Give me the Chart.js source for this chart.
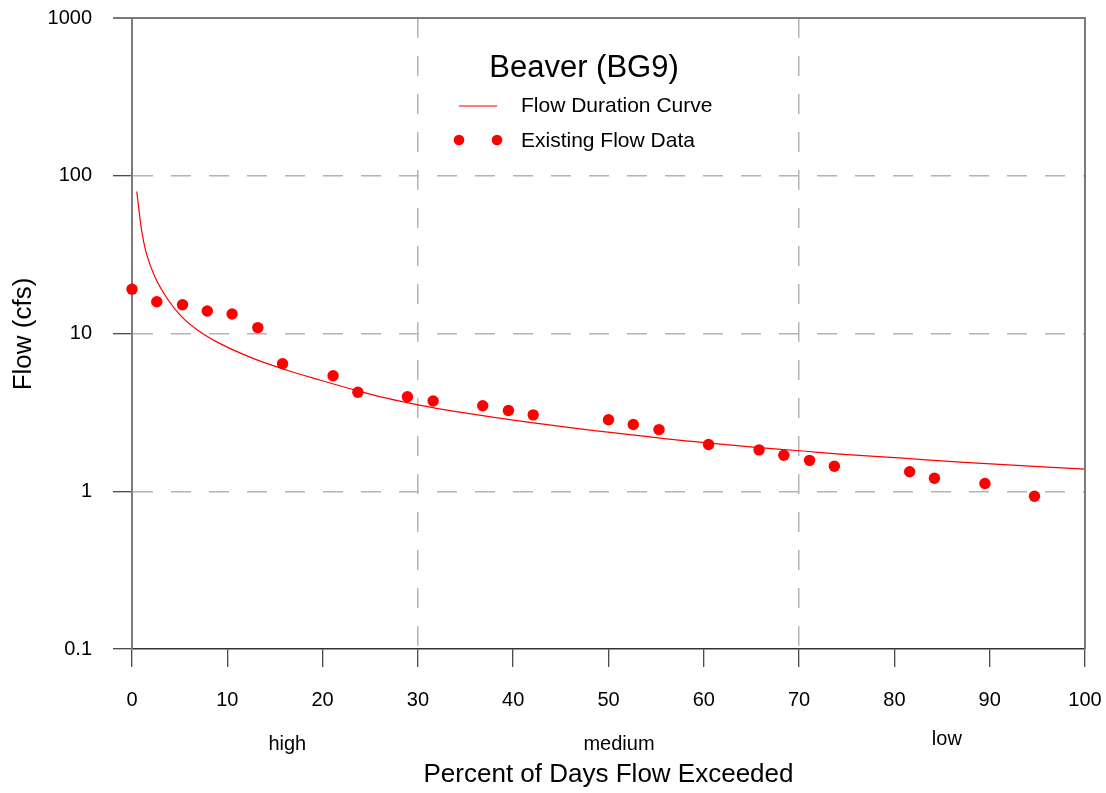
<!DOCTYPE html>
<html>
<head>
<meta charset="utf-8">
<title>Beaver (BG9)</title>
<script src="https://cdn.jsdelivr.net/npm/chart.js@4"></script>
<style>
  html, body { margin: 0; padding: 0; background: #ffffff; }
  #wrap { width: 1106px; height: 793px; }
</style>
</head>
<body>
<div id="wrap"><canvas id="fdc" width="1106" height="793"></canvas></div>
<script>
// Observed flow records: percent of days exceeded vs flow (cfs)
const flowPercent = [0, 2.6, 5.3, 7.9, 10.5, 13.2, 15.8, 21.1, 23.7, 28.9, 31.6, 36.8, 39.5,
  42.1, 50.0, 52.6, 55.3, 60.5, 65.8, 68.4, 71.1, 73.7, 81.6, 84.2, 89.5, 94.7];
const flowCfs = [19.1, 15.9, 15.2, 13.9, 13.3, 10.9, 6.43, 5.40, 4.24, 3.97, 3.73, 3.48, 3.25,
  3.05, 2.84, 2.65, 2.46, 1.98, 1.83, 1.69, 1.57, 1.44, 1.33, 1.21, 1.12, 0.93];

// Flow duration curve
const curvePercent = [0.5, 1.0, 1.5, 2.4, 3.8, 5.2, 6.9, 9.2, 12.7, 16.2, 19.7, 23.7, 26.7,
  30.0, 34.4, 42.1, 56.1, 59.9, 64.9, 70.4, 74.3, 80.9, 86.9, 100];
const curveCfs = [79.5, 45.4, 32.3, 22.9, 16.3, 12.8, 10.5, 8.66, 6.96, 5.87, 5.07, 4.33, 3.89,
  3.53, 3.17, 2.71, 2.15, 2.04, 1.91, 1.80, 1.72, 1.62, 1.53, 1.38];

// Axis ticks
const yTickValues = [0.1, 1, 10, 100, 1000];
const yTickLabels = ['0.1', '1', '10', '100', '1000'];
const yGridValues = [1, 10, 100];
const xGridValues = [30, 70];

// Flow zones along the x axis
const zoneNames = ['high', 'medium', 'low'];
const zoneCenters = [16.3, 51.1, 85.5];

const FONT = "'Liberation Sans', Arial, Helvetica, sans-serif";
const RED = '#ff0000';
const GRID = '#b4b4b4';

const toPoints = (xs, ys) => xs.map((x, i) => ({ x: x, y: ys[i] }));

// keep tick labels from pushing the plot area inwards
function noLabelPadding(scale) {
  scale.paddingTop = 0;
  scale.paddingBottom = 0;
  scale.paddingLeft = 0;
  scale.paddingRight = 0;
}

const overlay = {
  id: 'overlay',
  afterDraw(chart) {
    const { ctx, chartArea: a, scales } = chart;
    const xs = scales.x;
    ctx.save();
    // top and right frame lines
    ctx.strokeStyle = '#7a7a7a';
    ctx.lineWidth = 2;
    ctx.beginPath();
    ctx.moveTo(a.left - 19, a.top);
    ctx.lineTo(a.right, a.top);
    ctx.lineTo(a.right, a.bottom);
    ctx.stroke();

    // title
    ctx.fillStyle = '#000';
    ctx.textBaseline = 'middle';
    ctx.textAlign = 'center';
    ctx.font = '31px ' + FONT;
    ctx.fillText('Beaver (BG9)', 584, 68);

    // legend
    ctx.strokeStyle = RED;
    ctx.lineWidth = 1.2;
    ctx.beginPath();
    ctx.moveTo(459, 106);
    ctx.lineTo(497, 106);
    ctx.stroke();
    ctx.fillStyle = RED;
    [459, 497].forEach(cx => {
      ctx.beginPath();
      ctx.arc(cx, 140, 5.3, 0, Math.PI * 2);
      ctx.fill();
    });
    ctx.fillStyle = '#000';
    ctx.textAlign = 'left';
    ctx.font = '21px ' + FONT;
    ctx.fillText('Flow Duration Curve', 521, 106);
    ctx.fillText('Existing Flow Data', 521, 141);

    // flow zone labels
    ctx.textAlign = 'center';
    ctx.textBaseline = 'alphabetic';
    ctx.font = '20px ' + FONT;
    zoneNames.forEach((name, i) => {
      const yb = name === 'low' ? 745 : 750;
      ctx.fillText(name, xs.getPixelForValue(zoneCenters[i]), yb);
    });

    // axis titles
    ctx.textBaseline = 'middle';
    ctx.font = '26px ' + FONT;
    ctx.fillText('Percent of Days Flow Exceeded', (a.left + a.right) / 2, 775);
    ctx.translate(24, 334);
    ctx.rotate(-Math.PI / 2);
    ctx.fillText('Flow (cfs)', 0, 0);
    ctx.restore();
  }
};

new Chart(document.getElementById('fdc'), {
  type: 'scatter',
  data: {
    datasets: [
      {
        label: 'Existing Flow Data',
        data: toPoints(flowPercent, flowCfs),
        backgroundColor: RED,
        borderColor: RED,
        pointRadius: 5.7,
        pointBorderWidth: 0,
        clip: false,
        order: 0
      },
      {
        type: 'line',
        label: 'Flow Duration Curve',
        data: toPoints(curvePercent, curveCfs),
        borderColor: RED,
        borderWidth: 1.2,
        pointRadius: 0,
        fill: false,
        cubicInterpolationMode: 'monotone',
        order: 1
      }
    ]
  },
  options: {
    responsive: false,
    animation: false,
    devicePixelRatio: 1,
    layout: { padding: { left: 0, top: 18, right: 21, bottom: 0 } },
    plugins: {
      legend: { display: false },
      tooltip: { enabled: false },
      title: { display: false }
    },
    scales: {
      x: {
        type: 'linear',
        min: 0,
        max: 100,
        afterFit(scale) { scale.height = 144; noLabelPadding(scale); },
        ticks: {
          stepSize: 10,
          autoSkip: false,
          maxRotation: 0,
          padding: 21,
          color: '#000',
          font: { family: FONT, size: 20 }
        },
        grid: {
          color: c => (c.tick && xGridValues.includes(c.tick.value)) ? GRID : 'rgba(0,0,0,0)',
          lineWidth: 1.5,
          tickColor: '#111',
          tickLength: 18,
          tickWidth: 1
        },
        border: { display: true, color: '#333', width: 1.5, dash: [20, 18] }
      },
      y: {
        type: 'logarithmic',
        min: 0.1,
        max: 1000,
        afterFit(scale) { scale.width = 132; noLabelPadding(scale); },
        afterBuildTicks(scale) { scale.ticks = yTickValues.map(v => ({ value: v })); },
        ticks: {
          autoSkip: false,
          padding: 21,
          color: '#000',
          font: { family: FONT, size: 20 },
          callback: (v) => {
            const i = yTickValues.findIndex(t => Math.abs(t - v) < 1e-9);
            return i >= 0 ? yTickLabels[i] : '';
          }
        },
        grid: {
          color: c => (c.tick && yGridValues.some(g => Math.abs(g - c.tick.value) < 1e-9)) ? GRID : 'rgba(0,0,0,0)',
          lineWidth: 1.5,
          tickColor: '#111',
          tickLength: 19,
          tickWidth: 1
        },
        border: { display: true, color: '#7a7a7a', width: 2, dash: [20, 18] }
      }
    }
  },
  plugins: [overlay]
});
</script>
</body>
</html>
